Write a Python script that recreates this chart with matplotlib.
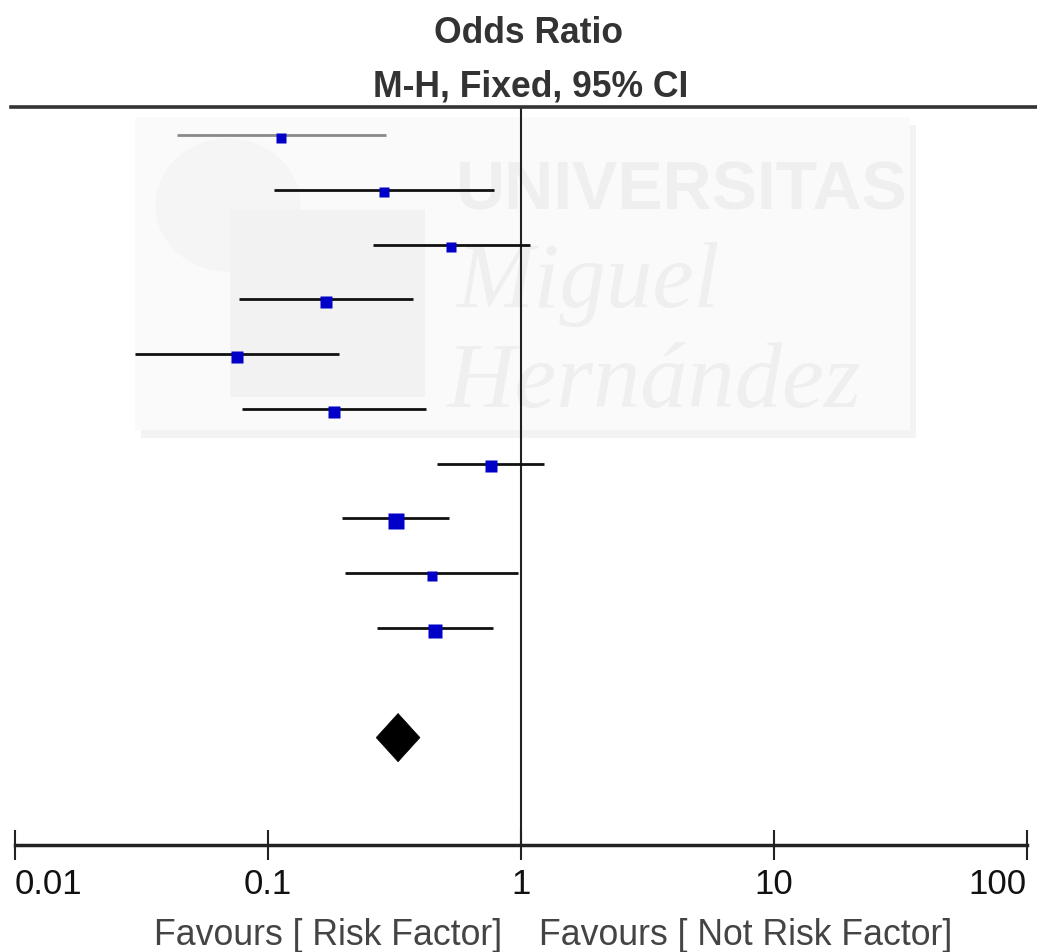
import matplotlib
matplotlib.use('Agg')
import matplotlib.pyplot as plt
from matplotlib.patches import Polygon, Rectangle, Circle
from matplotlib.ticker import NullLocator
from matplotlib import font_manager

# Odds ratios and 95% CI per study, top to bottom
odds_ratio = [0.113, 0.288, 0.531, 0.169, 0.0756, 0.183, 0.759, 0.322, 0.444, 0.458]
ci_low = [0.0438, 0.1057, 0.2597, 0.0770, 0.0298, 0.0788, 0.4675, 0.1968, 0.2018, 0.2693]
ci_high = [0.2922, 0.7855, 1.087, 0.3737, 0.1916, 0.4218, 1.232, 0.5216, 0.9721, 0.7742]
weight = [8.3, 6.3, 6.3, 9.9, 11.0, 9.3, 11.0, 17.8, 7.3, 12.9]

# pooled estimate (M-H, fixed)
pooled = 0.327
pooled_low = 0.268
pooled_high = 0.399

ticks = [0.01, 0.1, 1, 10, 100]
tick_labels = ['0.01', '0.1', '1', '10', '100']

# narrow font if we have it
names = set(f.name for f in font_manager.fontManager.ttflist)
narrow = 'Liberation Sans Narrow' if 'Liberation Sans Narrow' in names else 'Liberation Sans'
plt.rcParams['font.family'] = [narrow, 'DejaVu Sans']

W, H = 1037, 952
fig = plt.figure(figsize=(W / 100, H / 100), dpi=100)

# faint watermark behind the plot
fig.add_artist(Rectangle((141 / W, 1 - 438 / H), 775 / W, 313 / H, transform=fig.transFigure,
                         fc='#f3f3f3', ec='none', zorder=-11))
fig.add_artist(Rectangle((135 / W, 1 - 430 / H), 775 / W, 313 / H, transform=fig.transFigure,
                         fc='#fafafa', ec='none', zorder=-10))
fig.add_artist(Rectangle((230 / W, 1 - 397 / H), 195 / W, 187 / H, transform=fig.transFigure,
                         fc='#f2f2f2', ec='none', zorder=-9))
fig.add_artist(Circle((228 / W, 1 - 205 / H), 0.07, transform=fig.transFigure,
                      fc='#f5f5f5', ec='none', zorder=-9.5))
fig.text(456 / W, 1 - 210 / H, 'UNIVERSITAS', fontsize=49, fontweight='bold', color='#efefef',
         ha='left', va='baseline', zorder=-8)
fig.text(456 / W, 1 - 307 / H, 'Miguel', fontsize=67, style='italic', family='Liberation Serif',
         color='#efefef', ha='left', va='baseline', zorder=-8)
fig.text(446 / W, 1 - 407 / H, 'Hernández', fontsize=68, style='italic', family='Liberation Serif',
         color='#efefef', ha='left', va='baseline', zorder=-8)

ax = fig.add_axes([15 / W, 107 / H, 1011.7 / W, 738 / H])
ax.patch.set_visible(False)
ax.set_xscale('log')
ax.set_xlim(0.01, 100)
ax.set_ylim(13.96, 0.49)

line_colors = ['#8a8a8a'] + ['#111111'] * 9
for i in range(len(odds_ratio)):
    y = i + 1
    ax.plot([ci_low[i], ci_high[i]], [y, y], color=line_colors[i], lw=2.0,
            solid_capstyle='butt', zorder=3)
    side = 3.71 * weight[i] ** 0.5
    ax.plot(odds_ratio[i], y + 0.05, marker='s', ms=side * 0.72, color='#0000c8',
            mec='none', zorder=4)

yd = len(odds_ratio) + 2
ax.add_patch(Polygon([(pooled_low, yd), (pooled, yd - 0.44), (pooled_high, yd), (pooled, yd + 0.44)],
                     closed=True, fc='black', ec='black', lw=0.5, zorder=4))

ax.axvline(1, color='#222222', lw=1.5, zorder=2)
ax.axhline(0.49, xmin=-0.004, xmax=1.0102, color='#333333', lw=2.6, clip_on=False)

for s in ['left', 'right', 'top']:
    ax.spines[s].set_visible(False)
ax.spines['bottom'].set_linewidth(2.5)
ax.spines['bottom'].set_color('#222222')
ax.set_yticks([])
ax.set_xticks(ticks)
ax.set_xticklabels(tick_labels)
ax.xaxis.set_minor_locator(NullLocator())
ax.tick_params(axis='x', direction='inout', length=21.6, width=1.5, color='#222222',
               pad=6, labelsize=25, labelcolor='#111111')
labels = ax.get_xticklabels()
labels[0].set_horizontalalignment('left')
labels[-1].set_horizontalalignment('right')

fig.text(528 / W, 1 - 43 / H, 'Odds Ratio', ha='center', va='baseline', fontsize=25.6,
         fontweight='bold', color='#333333')
fig.text(531 / W, 1 - 97 / H, 'M-H, Fixed, 95% CI', ha='center', va='baseline', fontsize=25.6,
         fontweight='bold', color='#333333')
fig.text(502 / W, 1 - 945 / H, 'Favours [ Risk Factor]', ha='right', va='baseline',
         fontsize=25.7, color='#444444')
fig.text(539 / W, 1 - 945 / H, 'Favours [ Not Risk Factor]', ha='left', va='baseline',
         fontsize=25.7, color='#444444')

fig.savefig('out.png', dpi=100)
